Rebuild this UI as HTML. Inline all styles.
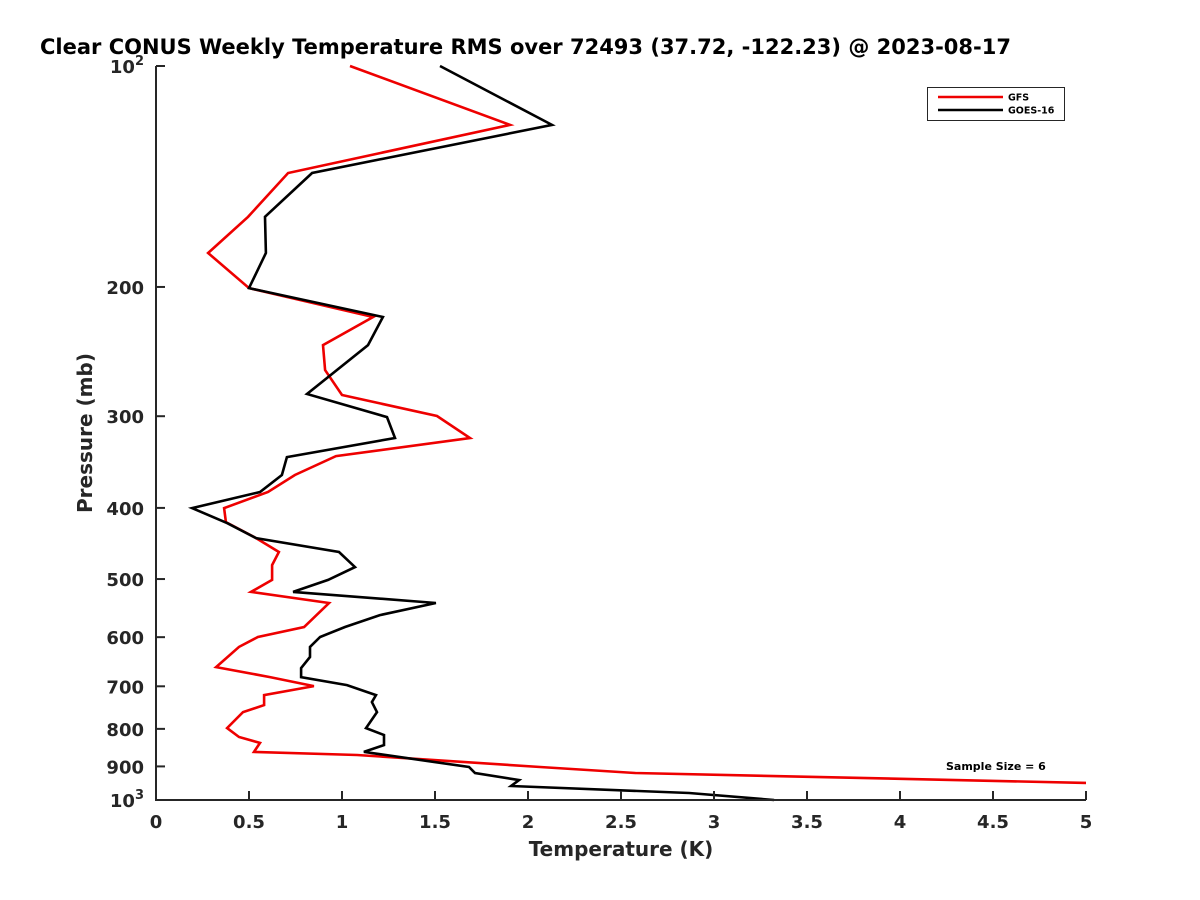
<!DOCTYPE html>
<html><head><meta charset="utf-8"><style>
html,body{margin:0;padding:0;background:#fff;}
svg{display:block;font-family:"DejaVu Sans","Liberation Sans",sans-serif;}
</style></head><body>
<svg id="chart" width="1200" height="900" viewBox="0 0 1200 900" xmlns="http://www.w3.org/2000/svg">
<rect width="1200" height="900" fill="#fff"/>
<text x="40" y="54" font-size="21" font-weight="bold" fill="#000">Clear CONUS Weekly Temperature RMS over 72493 (37.72, -122.23) @ 2023-08-17</text>
<defs><clipPath id="plotclip"><rect x="156" y="60" width="930" height="742"/></clipPath></defs>
<g id="series" clip-path="url(#plotclip)"></g>
<g id="axes"></g>
<text x="621" y="856" font-size="20" font-weight="bold" fill="#262626" text-anchor="middle">Temperature (K)</text>
<text transform="translate(92,433) rotate(-90)" font-size="20" font-weight="bold" fill="#262626" text-anchor="middle">Pressure (mb)</text>
<g>
<rect x="927.5" y="87.5" width="137" height="33" fill="#fff" stroke="#262626" stroke-width="1"/>
<line x1="938" y1="97" x2="1003" y2="97" stroke="#e00" stroke-width="2.5"/>
<text x="1008" y="100.5" font-size="9.5" font-weight="bold" fill="#000">GFS</text>
<line x1="938" y1="110" x2="1003" y2="110" stroke="#000" stroke-width="2.5"/>
<text x="1008" y="113.5" font-size="9.5" font-weight="bold" fill="#000">GOES-16</text>
</g>
<text x="946" y="770" font-size="11" font-weight="bold" fill="#000">Sample Size = 6</text>
</svg>
<script>
const gfsPressure = [100,120.3,139.9,160.5,179.8,200.7,219.8,240,259.6,280.7,299.8,321.2,340,360.8,380.5,400.2,418.2,439.7,459.4,478.6,501.4,520.6,539,581.1,599.6,618.7,659,680,699.5,719.5,742.5,759,798,820.7,836,860,868.4,901.6,918.7,948];
const gfsTemp = [1.043,1.903,0.710,0.495,0.280,0.500,1.167,0.898,0.909,1.000,1.511,1.688,0.968,0.747,0.602,0.366,0.376,0.538,0.661,0.624,0.624,0.511,0.930,0.796,0.548,0.446,0.323,0.613,0.849,0.581,0.581,0.468,0.382,0.446,0.559,0.527,1.081,2.065,2.575,5.02];
const goesPressure = [100,120.3,139.9,160.5,179.8,200.7,219.8,240,279.8,300.8,321.2,341.1,360.8,380.5,400.2,419.5,439.7,459.4,481.6,501.4,520.6,539,559.8,581.1,599.6,618.7,638.6,661.1,680,697.3,719.5,735.6,759,798,815.5,841.8,860,901.6,918.7,939.4,956.9,978.4,1000];
const goesTemp = [1.527,2.129,0.839,0.586,0.591,0.500,1.220,1.140,0.812,1.242,1.285,0.704,0.677,0.559,0.194,0.382,0.538,0.984,1.070,0.925,0.737,1.505,1.204,1.016,0.882,0.828,0.828,0.780,0.780,1.027,1.183,1.161,1.188,1.129,1.226,1.226,1.118,1.683,1.715,1.952,1.909,2.866,3.323];
const xTicks = [0,0.5,1,1.5,2,2.5,3,3.5,4,4.5,5];
const xTickLabels = ["0","0.5","1","1.5","2","2.5","3","3.5","4","4.5","5"];
const yTicks = [100,200,300,400,500,600,700,800,900,1000];
const yTickLabels = ["10|2","200","300","400","500","600","700","800","900","10|3"];

const X0=156, X1=1086, Y0=66, Y1=800, TMIN=0, TMAX=5;
function xScale(t){return X0+(t-TMIN)/(TMAX-TMIN)*(X1-X0);}
function yScale(p){return Y0+(Math.log10(p)-2)*(Y1-Y0);}
const NS="http://www.w3.org/2000/svg";
const series=document.getElementById('series');
const axes=document.getElementById('axes');
function mk(tag,attrs,parent){const e=document.createElementNS(NS,tag);for(const k in attrs)e.setAttribute(k,attrs[k]);parent.appendChild(e);return e;}

function drawLine(temps,pres,color,name){
  const pts=temps.map((t,i)=>xScale(t).toFixed(1)+","+yScale(pres[i]).toFixed(1)).join(" ");
  const pl=mk('polyline',{points:pts,fill:"none",stroke:color,"stroke-width":"2.6","stroke-linejoin":"miter"},series);
  
  
}
drawLine(gfsTemp,gfsPressure,"#e00","gfs-line");
drawLine(goesTemp,goesPressure,"#000","goes16-line");

const ax=mk('line',{x1:X0,y1:Y0,x2:X0,y2:Y1,stroke:"#262626","stroke-width":"2"},axes);


const bx=mk('line',{x1:X0-1,y1:Y1,x2:X1,y2:Y1,stroke:"#262626","stroke-width":"2"},axes);



xTicks.forEach((t,i)=>{
  const x=xScale(t);
  const tk=mk('line',{x1:x,y1:Y1,x2:x,y2:Y1-9,stroke:"#262626","stroke-width":"2"},axes);
  
  
  const tl=mk('text',{x:x,y:Y1+28,"font-size":"18","font-weight":"bold",fill:"#262626","text-anchor":"middle"},axes);
  tl.textContent=xTickLabels[i];
  
  
});
yTicks.forEach((p,i)=>{
  const y=yScale(p);
  const tk=mk('line',{x1:X0,y1:y,x2:X0+9,y2:y,stroke:"#262626","stroke-width":"2"},axes);
  
  
  const parts=yTickLabels[i].split("|");
  const tl=mk('text',{x:X0-12,y:y+7,"font-size":"18","font-weight":"bold",fill:"#262626","text-anchor":"end"},axes);
  
  
  if(parts.length>1){
    const a=mk('tspan',{},tl); a.textContent=parts[0];
    const b=mk('tspan',{dy:"-8","font-size":"13"},tl); b.textContent=parts[1];
  } else tl.textContent=parts[0];
});
</script>
</body></html>
